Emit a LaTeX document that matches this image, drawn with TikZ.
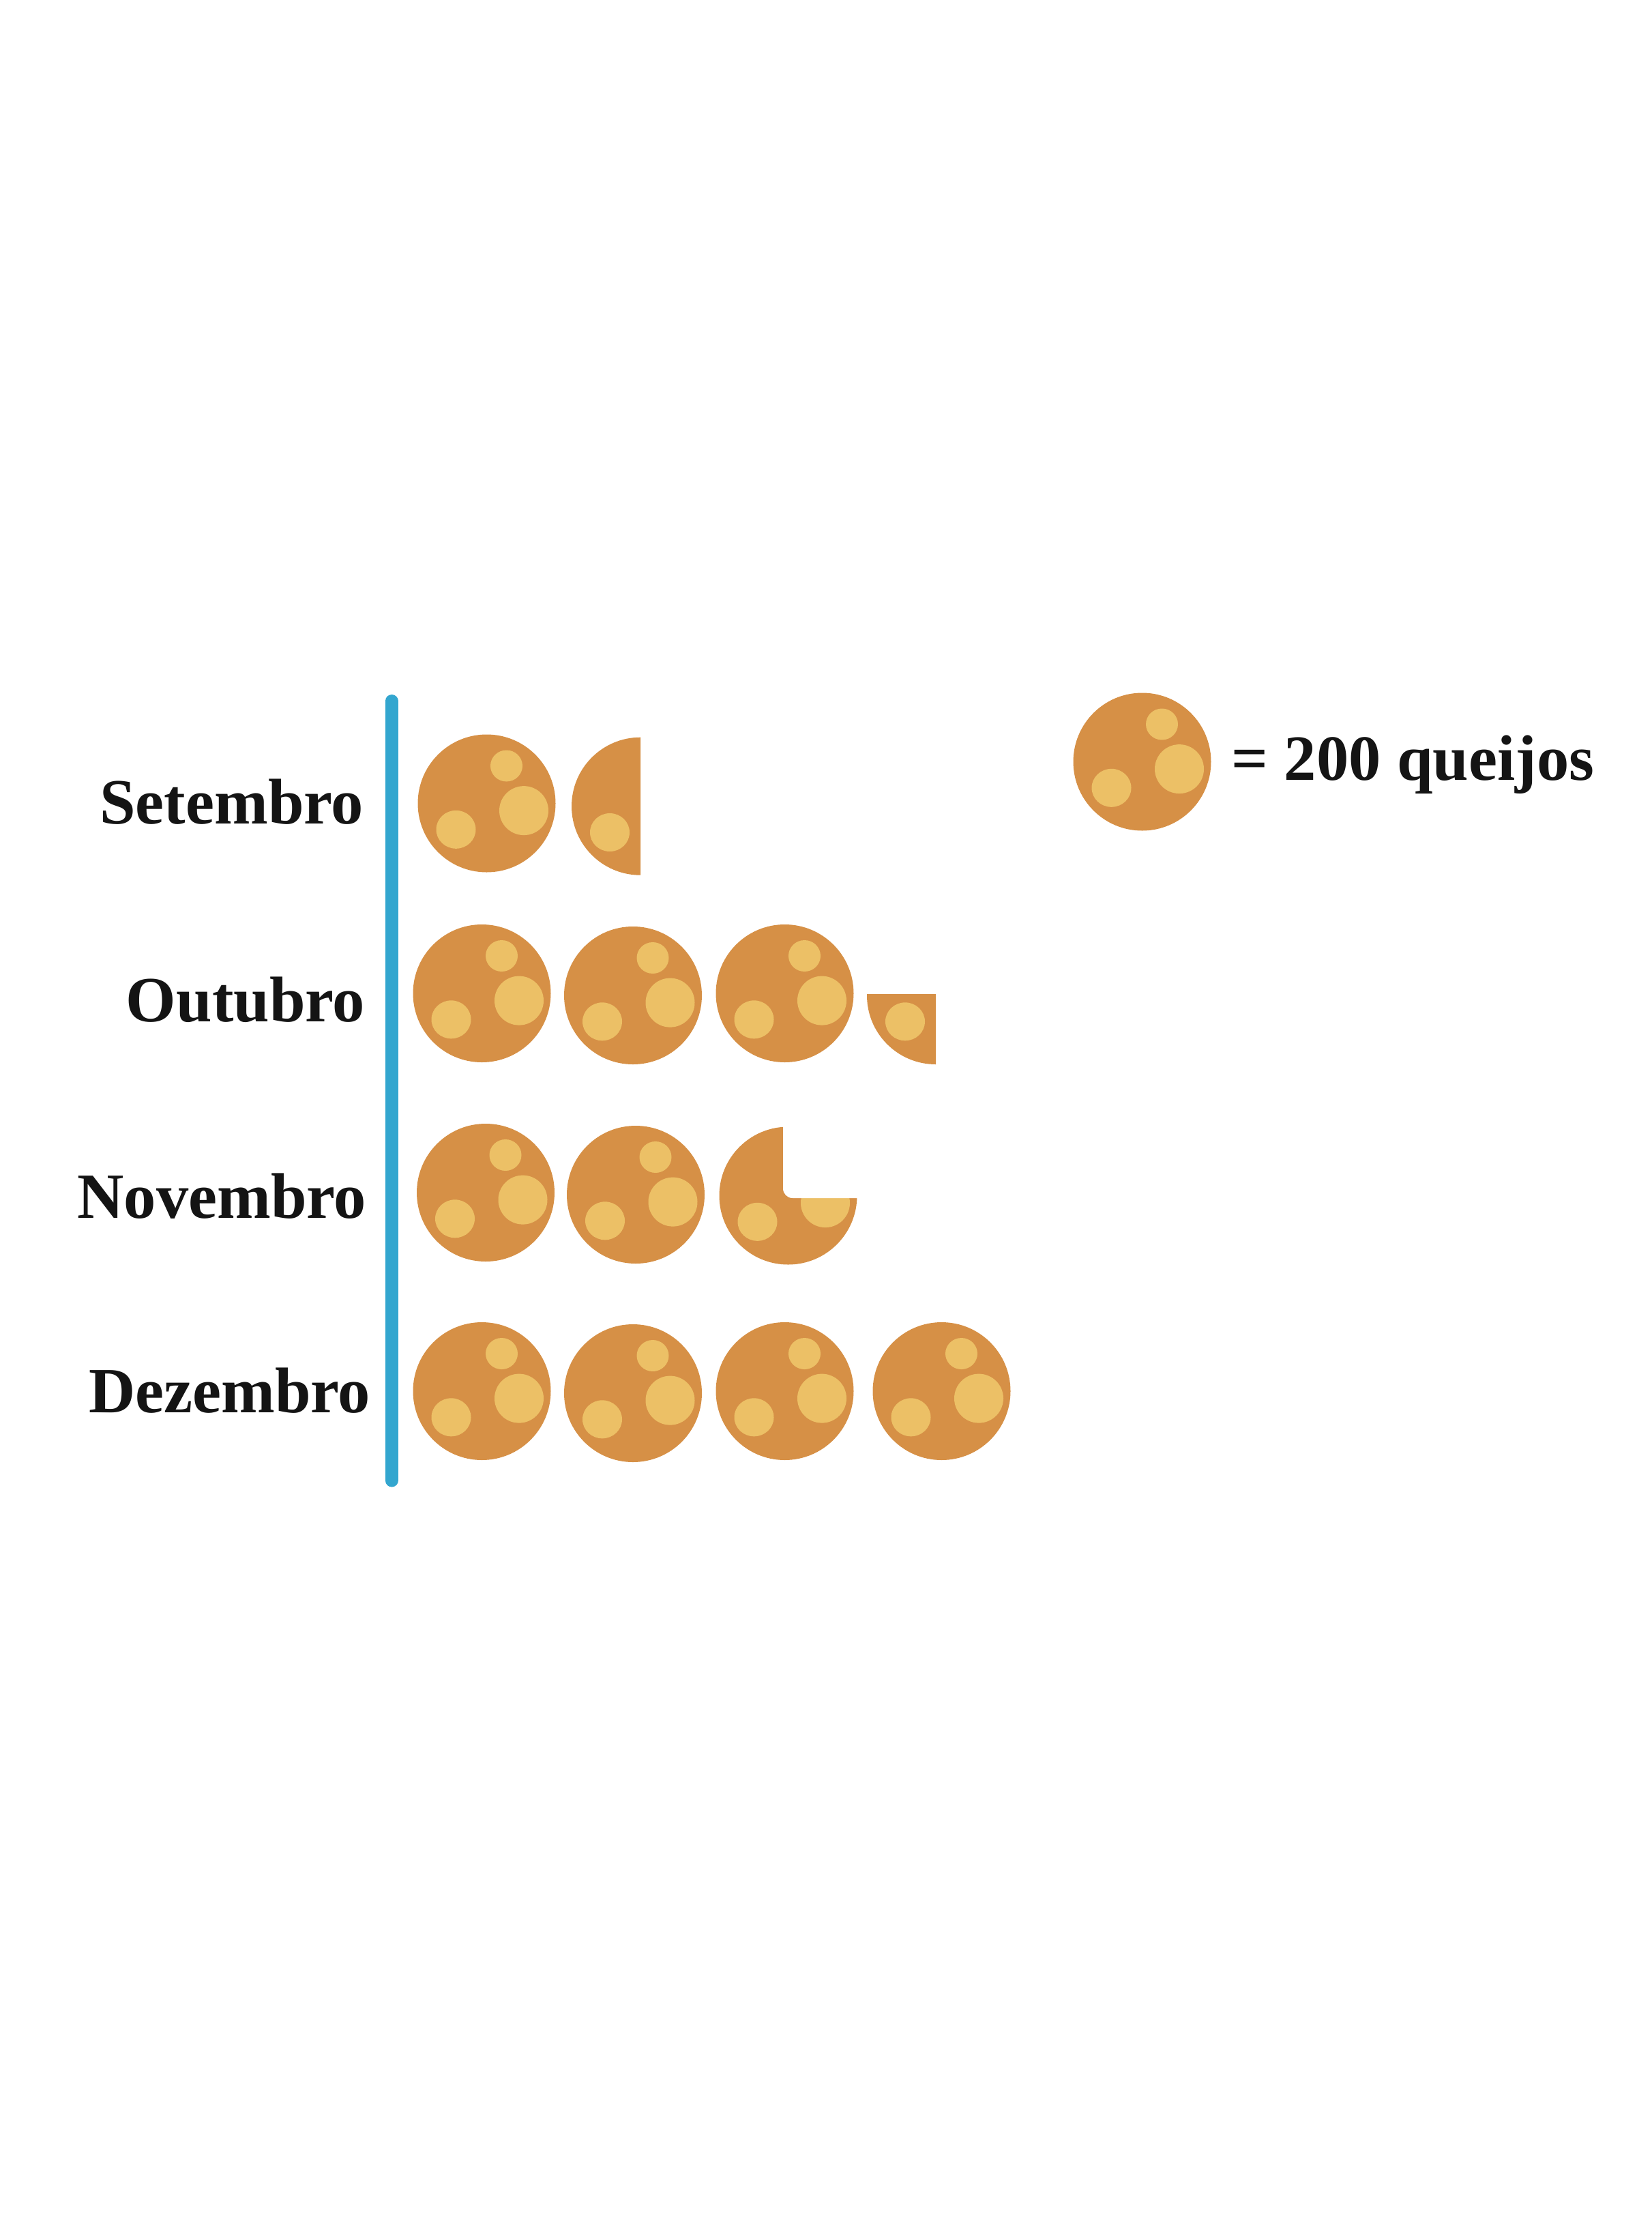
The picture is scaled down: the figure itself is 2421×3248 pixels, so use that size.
\documentclass[tikz,border=0pt]{standalone}
\usepackage{fontspec}
\setmainfont{Liberation Serif}
\definecolor{cheeseBody}{rgb}{0.84,0.565,0.275}
\definecolor{cheeseHole}{rgb}{0.925,0.753,0.40}
\definecolor{barBlue}{rgb}{0.20,0.65,0.81}
\definecolor{labelInk}{rgb}{0.08,0.08,0.08}

\tikzset{
  monthlabel/.style={anchor=base east,inner sep=0pt,text=labelInk,font=\fontsize{53.8}{60}\selectfont\bfseries},
  % holes of one cheese, measured from its centre
  smallhole/.pic={\fill[cheeseHole] (29,-55) ellipse (23.5 and 23);},
  bighole/.pic={\fill[cheeseHole] (54.5,10.6) ellipse (36 and 36);},
  lefthole/.pic={\fill[cheeseHole] (-45,38.3) ellipse (29 and 28);},
  cheese/.pic={
    \fill[cheeseBody] (0,0) circle (101);
    \pic {smallhole}; \pic {bighole}; \pic {lefthole};
  }
}

\begin{document}
\begin{tikzpicture}[x=0.02cm,y=-0.02cm]

  \useasboundingbox (0,0) rectangle (2421,3248);

  % Axis
  \coordinate (axistop) at (574.2,1027.5);
  \coordinate (axisbottom) at (574.2,2170);
  \draw[barBlue,line width=0.38cm,line cap=round] (axistop) -- (axisbottom);

  % Month labels
  \node[monthlabel] (setembro) at (533.5,1207) {Setembro};
  \node[monthlabel] (outubro) at (535.5,1497) {Outubro};
  \node[monthlabel] (novembro) at (537.5,1785) {Novembro};
  \node[monthlabel] (dezembro) at (543.5,2070.5) {Dezembro};

  % Whole cheeses
  \foreach \cx/\cy in {713.5/1177.5,
      706.5/1456, 928/1459, 1150.5/1456,
      712/1748, 932/1751,
      706.5/2039, 928/2042, 1150.5/2039, 1380.5/2039,
      1674.5/1116.5}
    \pic at (\cx,\cy) {cheese};

  % Half cheese
  \begin{scope}[shift={(939,1181.7)}]
    \begin{scope}
      \clip (-110,-110) rectangle (0,110);
      \fill[cheeseBody] (0,0) circle (101);
    \end{scope}
    \pic {lefthole};
  \end{scope}

  % Quarter cheese
  \begin{scope}[shift={(1372,1459)}]
    \begin{scope}
      \clip (-110,-2) rectangle (0,110);
      \fill[cheeseBody] (0,0) circle (101);
    \end{scope}
    \pic {lefthole};
  \end{scope}

  % Three quarter cheese, the notch is white
  \begin{scope}[shift={(1155.5,1752.5)}]
    \fill[cheeseBody] (0,0) circle (101);
    \pic {smallhole}; \pic {bighole}; \pic {lefthole};
    \fill[white,rounded corners=8] (-7.5,-115) -- (-7.5,3.5) -- (115,3.5) -- (115,-115) -- cycle;
  \end{scope}

  % Legend
  \node[anchor=base west,inner sep=0pt,text=labelInk,font=\fontsize{53.8}{60}\selectfont\bfseries] (legend) at (1805,1143) {= 200 queijos};

\end{tikzpicture}
\end{document}
